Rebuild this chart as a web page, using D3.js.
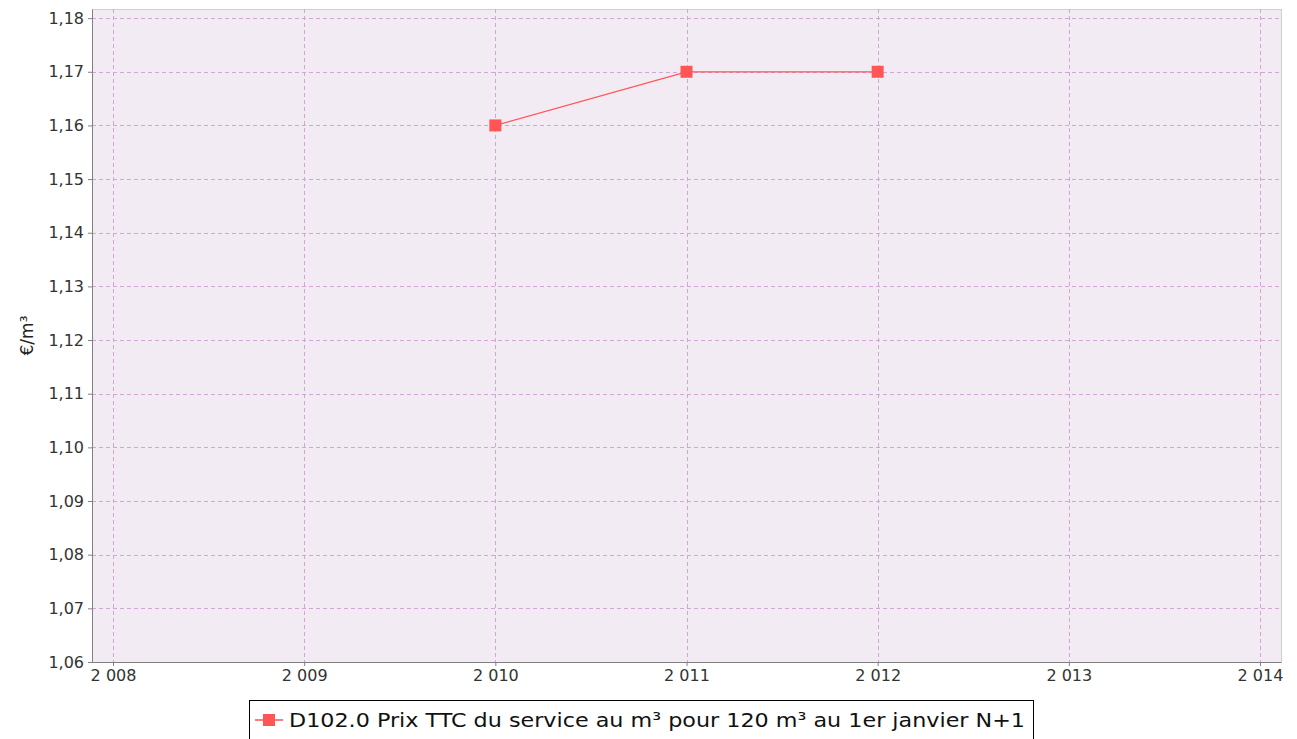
<!DOCTYPE html>
<html>
<head>
<meta charset="utf-8">
<script src="https://cdn.jsdelivr.net/npm/d3@7"></script>
<style>
  body { margin: 0; background: #fff; }
  svg { display: block; }
</style>
</head>
<body>
<svg id="chart" width="1297" height="739"></svg>
<script>
// data
var years = [2010, 2011, 2012],
    prices = [1.16, 1.17, 1.17],
    xTicks = [2008, 2009, 2010, 2011, 2012, 2013, 2014],
    yTicks = [1.06, 1.07, 1.08, 1.09, 1.10, 1.11, 1.12, 1.13, 1.14, 1.15, 1.16, 1.17, 1.18],
    seriesName = 'D102.0 Prix TTC du service au m³ pour 120 m³ au 1er janvier N+1',
    yLabel = '€/m³';

var lineColor = '#ff5555',
    gridColor = '#cfa6d4',
    plotBg = '#f2ebf3',
    font = 'DejaVu Sans';

var svg = d3.select('#chart'),
    pLeft = 92, pRight = 1281, pTop = 9, pBottom = 662;

// french style numbers: "2 008", "1,18"
var fr = d3.formatLocale({decimal: ',', thousands: ' ', grouping: [3], currency: ['', '€']});
var fmtYear = fr.format(',d'),
    fmtVal = fr.format('.2f');

var x = d3.scaleLinear().domain([2007.89, 2014.11]).range([pLeft, pRight]);
var y = d3.scaleLinear().domain([1.06, 1.1817]).range([pBottom, pTop]);

// plot background
svg.append('rect')
  .attr('x', pLeft + 0.5).attr('y', pTop + 0.5)
  .attr('width', pRight - pLeft).attr('height', pBottom - pTop)
  .attr('fill', plotBg)
  .attr('stroke', '#d0d0d0');

// gridlines
svg.append('g').selectAll('line').data(yTicks).enter().append('line')
  .attr('x1', pLeft).attr('x2', pRight)
  .attr('y1', function(d) { return Math.round(y(d)) + 0.5; })
  .attr('y2', function(d) { return Math.round(y(d)) + 0.5; })
  .attr('stroke', gridColor).attr('stroke-dasharray', '4,3');

svg.append('g').selectAll('line').data(xTicks).enter().append('line')
  .attr('y1', pTop).attr('y2', pBottom)
  .attr('x1', function(d) { return Math.round(x(d)) + 0.5; })
  .attr('x2', function(d) { return Math.round(x(d)) + 0.5; })
  .attr('stroke', gridColor).attr('stroke-dasharray', '4,3');

// axes
var yAxis = d3.axisLeft(y).tickValues(yTicks).tickFormat(fmtVal).tickSizeInner(4).tickSizeOuter(0).tickPadding(4);
var xAxis = d3.axisBottom(x).tickValues(xTicks).tickFormat(fmtYear).tickSizeInner(4).tickSizeOuter(0).tickPadding(4);

var gy = svg.append('g').attr('transform', 'translate(' + pLeft + ',0)').call(yAxis);
var gx = svg.append('g').attr('transform', 'translate(0,' + pBottom + ')').call(xAxis);

[gx, gy].forEach(function(g) {
  g.attr('font-size', null).attr('font-family', null);
  g.select('.domain').attr('stroke', '#808080');
  g.selectAll('.tick line').attr('stroke', '#808080');
  g.selectAll('.tick text').attr('fill', '#333').style('font-family', font).style('font-size', '16px');
});

// y axis label
svg.append('text')
  .attr('transform', 'translate(33,' + ((pTop + pBottom) / 2) + ') rotate(-90)')
  .attr('text-anchor', 'middle')
  .style('font-family', font).style('font-size', '17px').attr('fill', '#222')
  .text(yLabel);

// series line
var data = years.map(function(yr, i) { return {x: yr, y: prices[i]}; });
var line = d3.line().x(function(d) { return x(d.x); }).y(function(d) { return y(d.y); });

svg.append('path').datum(data)
  .attr('d', line)
  .attr('fill', 'none')
  .attr('stroke', lineColor)
  .attr('stroke-width', 1.3);

svg.append('g').selectAll('rect').data(data).enter().append('rect')
  .attr('x', function(d) { return x(d.x) - 6; })
  .attr('y', function(d) { return y(d.y) - 6; })
  .attr('width', 12).attr('height', 12)
  .attr('fill', lineColor);

// legend
var legend = svg.append('g');
legend.append('rect')
  .attr('x', 249.5).attr('y', 700.5)
  .attr('width', 784).attr('height', 50)
  .attr('fill', '#fff').attr('stroke', '#000');
legend.append('text')
  .attr('x', 289).attr('y', 727)
  .attr('textLength', 736).attr('lengthAdjust', 'spacingAndGlyphs')
  .style('font-family', font).style('font-size', '20px').attr('fill', '#111')
  .text(seriesName);
legend.append('line')
  .attr('x1', 255).attr('x2', 283).attr('y1', 720).attr('y2', 720)
  .attr('stroke', lineColor).attr('stroke-width', 1.5);
legend.append('rect')
  .attr('x', 263).attr('y', 714).attr('width', 12).attr('height', 12)
  .attr('fill', lineColor);
</script>
</body>
</html>
